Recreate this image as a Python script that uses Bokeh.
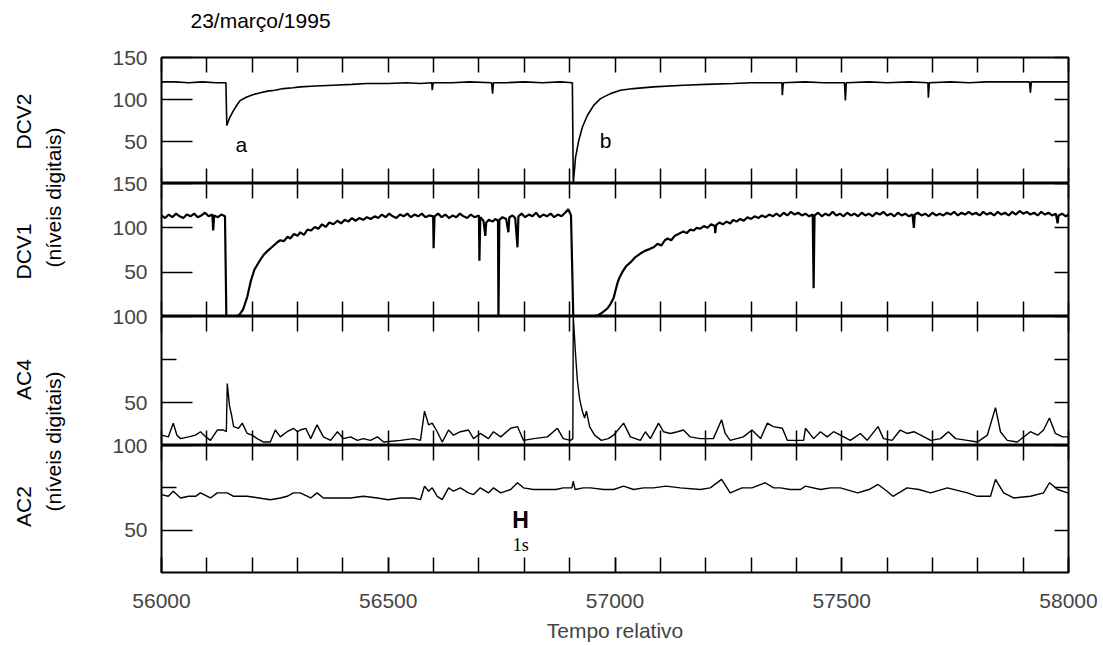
import math
from bokeh.plotting import figure
from bokeh.models import Range1d, LinearAxis, FixedTicker, SingleIntervalTicker
from bokeh.layouts import column, row
from bokeh.core.properties import value
from bokeh.embed import file_html
from bokeh.resources import INLINE

FONT = "Liberation Sans"
X_START, X_END = 56000, 58000

# ---------------- data ----------------
dcv2_x = [56000, 56030, 56060, 56090, 56120, 56142, 56144, 56150, 56159, 56167, 56174, 56188, 56203,
          56218, 56234, 56250, 56269, 56290, 56306, 56340, 56379, 56420, 56453, 56500, 56540, 56570,
          56596, 56597, 56599, 56640, 56680, 56728, 56730, 56732, 56760, 56800, 56840, 56880, 56906,
          56908, 56913, 56920, 56928, 56939, 56953, 56968, 56990, 57012, 57041, 57085, 57151, 57200,
          57261, 57300, 57340, 57368, 57369, 57371, 57420, 57460, 57506, 57508, 57510, 57560, 57600,
          57650, 57690, 57691, 57693, 57740, 57780, 57820, 57860, 57914, 57916, 57918, 57950, 57998, 58000]
dcv2_y = [121, 121, 120, 121, 120, 120, 69, 78, 87, 94, 99, 103, 106,
          108, 110, 111, 113, 114, 115, 116, 117, 118, 119, 119, 120, 119,
          120, 111, 120, 120, 121, 120, 107, 120, 120, 121, 120, 121, 120,
          0, 31, 51, 67, 81, 93, 101, 107, 111, 113, 115, 117, 118,
          119, 120, 120, 120, 105, 120, 121, 120, 120, 99, 120, 121, 120,
          121, 120, 102, 120, 121, 120, 121, 121, 121, 108, 121, 121, 121, 121]

dcv1_x = [56000, 56008, 56016, 56024, 56032, 56040, 56048, 56056, 56064, 56072, 56080, 56088, 56096,
          56104, 56112, 56114, 56116, 56124, 56132, 56140, 56143, 56163, 56172, 56180, 56189, 56197,
          56205, 56218, 56226, 56234, 56245, 56256, 56262, 56270, 56278, 56284, 56292, 56300, 56306,
          56314, 56322, 56330, 56338, 56346, 56354, 56362, 56370, 56379, 56388, 56396, 56404, 56412,
          56420, 56428, 56436, 56445, 56453, 56461, 56470, 56478, 56486, 56494, 56502, 56510, 56518,
          56526, 56534, 56542, 56550, 56558, 56566, 56574, 56582, 56590, 56599, 56600, 56602, 56610,
          56618, 56626, 56634, 56642, 56650, 56658, 56666, 56674, 56682, 56690, 56700, 56701, 56703,
          56710, 56714, 56716, 56722, 56730, 56736, 56742, 56743, 56745, 56752, 56760, 56765, 56767,
          56774, 56780, 56785, 56787, 56794, 56802, 56810, 56818, 56826, 56834, 56842, 56850, 56858,
          56866, 56874, 56882, 56890, 56897, 56903, 56908, 56946, 56960, 56968, 56976, 56983, 56990,
          56997, 57005, 57010, 57016, 57025, 57034, 57045, 57056, 57066, 57076, 57085, 57094, 57102,
          57110, 57116, 57124, 57132, 57140, 57151, 57158, 57166, 57174, 57180, 57188, 57196, 57204,
          57212, 57220, 57221, 57223, 57230, 57238, 57246, 57254, 57261, 57268, 57276, 57284, 57292,
          57300, 57308, 57316, 57324, 57332, 57340, 57348, 57356, 57364, 57372, 57380, 57388, 57396,
          57404, 57412, 57420, 57428, 57436, 57438, 57440, 57448, 57456, 57464, 57472, 57480, 57488,
          57496, 57504, 57512, 57520, 57528, 57536, 57544, 57552, 57560, 57568, 57576, 57584, 57592,
          57600, 57608, 57616, 57624, 57632, 57640, 57648, 57656, 57659, 57661, 57668, 57676, 57684,
          57692, 57700, 57708, 57716, 57724, 57732, 57740, 57748, 57756, 57764, 57772, 57780, 57788,
          57796, 57804, 57812, 57820, 57828, 57836, 57844, 57852, 57860, 57868, 57876, 57884, 57892,
          57900, 57908, 57916, 57924, 57932, 57940, 57948, 57956, 57964, 57972, 57976, 57978, 57986,
          57994, 58000]
dcv1_y = [114, 111, 115, 112, 116, 113, 111, 115, 113, 116, 112, 114, 117,
          113, 115, 97, 114, 112, 115, 113, 0, 0, 2, 8, 22, 40,
          53, 64, 70, 74, 79, 84, 86, 85, 90, 88, 93, 91, 95,
          92, 98, 97, 101, 99, 104, 101, 106, 104, 108, 105, 109, 107,
          111, 108, 111, 109, 112, 110, 113, 111, 115, 112, 116, 113, 111,
          115, 113, 116, 112, 115, 113, 116, 112, 114, 113, 77, 113, 116,
          112, 115, 111, 114, 112, 116, 113, 111, 115, 112, 114, 63, 112,
          108, 91, 106, 109, 107, 110, 108, 0, 109, 112, 110, 95, 112,
          114, 111, 78, 113, 116, 112, 115, 113, 117, 112, 115, 113, 116,
          112, 115, 113, 117, 121, 114, 0, 0, 1, 3, 6, 9, 14,
          21, 37, 44, 50, 57, 61, 67, 71, 74, 76, 78, 82, 80,
          86, 88, 86, 91, 93, 96, 94, 98, 97, 100, 99, 102, 100,
          104, 102, 94, 103, 106, 104, 107, 105, 109, 107, 110, 108, 112,
          110, 113, 111, 114, 112, 115, 113, 116, 113, 117, 114, 118, 115,
          117, 114, 116, 113, 115, 32, 114, 117, 113, 116, 114, 118, 114,
          116, 113, 117, 114, 116, 113, 117, 114, 116, 113, 117, 115, 118,
          114, 116, 113, 117, 114, 116, 113, 115, 100, 115, 117, 114, 116,
          113, 117, 114, 116, 114, 117, 115, 118, 114, 117, 115, 118, 115,
          117, 114, 118, 115, 117, 114, 118, 115, 117, 114, 118, 115, 119,
          116, 118, 115, 117, 114, 118, 115, 117, 114, 116, 105, 114, 116,
          113, 115]

ac4_x = [56000, 56015, 56026, 56034, 56042, 56060, 56075, 56086, 56098, 56108, 56123, 56137, 56143,
         56145, 56150, 56155, 56159, 56170, 56178, 56189, 56200, 56211, 56225, 56240, 56251, 56262,
         56277, 56291, 56300, 56306, 56318, 56329, 56343, 56357, 56373, 56388, 56401, 56417, 56432,
         56445, 56461, 56476, 56490, 56527, 56556, 56571, 56580, 56589, 56597, 56608, 56619, 56633,
         56644, 56659, 56677, 56688, 56703, 56721, 56732, 56748, 56770, 56785, 56798, 56821, 56851,
         56873, 56886, 56902, 56907, 56908, 56913, 56917, 56922, 56928, 56933, 56937, 56944, 56955,
         56970, 56985, 56997, 57019, 57034, 57056, 57067, 57078, 57096, 57107, 57122, 57138, 57151,
         57166, 57188, 57217, 57235, 57243, 57254, 57283, 57302, 57321, 57336, 57349, 57369, 57380,
         57400, 57416, 57420, 57438, 57453, 57468, 57482, 57497, 57519, 57541, 57556, 57580, 57592,
         57611, 57629, 57644, 57659, 57674, 57696, 57718, 57735, 57751, 57777, 57799, 57821, 57839,
         57850, 57865, 57887, 57916, 57932, 57945, 57958, 57971, 57987, 58000]
ac4_y = [31, 30, 38, 31, 29, 30, 31, 33, 30, 28, 34, 34, 33,
         61, 48, 42, 36, 35, 38, 32, 31, 29, 27, 27, 34, 30,
         33, 35, 33, 34, 35, 29, 37, 30, 28, 33, 29, 30, 28,
         29, 28, 30, 27, 28, 29, 28, 45, 37, 38, 33, 27, 34,
         31, 33, 34, 29, 32, 29, 33, 30, 35, 36, 28, 29, 30,
         35, 29, 28, 29, 100, 78, 63, 52, 45, 41, 45, 36, 31,
         28, 29, 31, 38, 30, 28, 33, 29, 38, 33, 32, 33, 34,
         30, 29, 29, 40, 32, 28, 30, 34, 29, 38, 36, 35, 28,
         28, 28, 35, 29, 33, 30, 33, 31, 28, 32, 28, 36, 29,
         28, 34, 32, 33, 31, 28, 29, 33, 29, 28, 27, 31, 47,
         33, 28, 27, 33, 31, 34, 41, 32, 30, 30]

ac2_x = [56000, 56015, 56026, 56042, 56060, 56075, 56086, 56108, 56123, 56145, 56159, 56189, 56215,
         56240, 56262, 56277, 56291, 56306, 56329, 56343, 56357, 56388, 56417, 56445, 56476, 56500,
         56527, 56556, 56571, 56580, 56589, 56597, 56608, 56619, 56633, 56644, 56659, 56677, 56688,
         56703, 56721, 56732, 56748, 56770, 56785, 56798, 56820, 56851, 56870, 56886, 56905, 56908,
         56912, 56930, 56946, 56975, 56997, 57019, 57041, 57063, 57085, 57112, 57144, 57188, 57210,
         57235, 57254, 57280, 57302, 57331, 57350, 57365, 57386, 57409, 57420, 57453, 57475, 57497,
         57535, 57560, 57580, 57600, 57613, 57644, 57670, 57696, 57733, 57777, 57799, 57828, 57839,
         57857, 57879, 57916, 57945, 57958, 57976, 57998, 58000]
ac2_y = [71, 70, 73, 69, 70, 70, 72, 69, 72, 72, 70, 70, 69,
         68, 69, 70, 72, 72, 69, 72, 69, 69, 69, 70, 69, 68,
         69, 69, 68, 76, 73, 75, 70, 68, 75, 73, 75, 72, 71,
         75, 72, 75, 72, 74, 78, 75, 74, 74, 74, 75, 75, 79,
         74, 75, 75, 74, 74, 76, 74, 75, 75, 76, 75, 74, 75,
         80, 72, 75, 75, 78, 75, 75, 74, 74, 76, 74, 75, 75,
         72, 74, 77, 73, 70, 75, 74, 72, 75, 72, 70, 70, 80,
         72, 69, 70, 72, 78, 74, 72, 72]

# panel value ranges and y ticks
dcv_range = (0, 150)
ac_range = (25, 100)
dcv_ticks = [50, 100, 150]
ac_ticks = [50, 100]
ac_minor = [75]
x_small_ticks = list(range(X_START, X_END + 1, 100))

title_text = "23/março/1995"
x_title = "Tempo relativo"
panel_names = ["DCV2", "DCV1", "AC4", "AC2"]
unit_label = "(níveis digitais)"

# annotation positions (data units of their panel)
mark_a = (56176, 47)
mark_b = (56979, 51)
scale_H = (56792, 56)
scale_1s = (56792, 41)

# ---------------- layout constants ----------------
FRAME_W = 907
LEFT_B = 83
RIGHT_B = 34
OVERLAP = 14
LAB_W = 78
TOP_H = 57
BOTTOM_B = 72
FRAME_H = [126, 133, 129, 127]
TOTAL_H = TOP_H + sum(FRAME_H) + BOTTOM_B

x_range = Range1d(X_START, X_END)


def clean(f):
    f.grid.visible = False
    f.border_fill_alpha = 0
    return f


def panel(frame_h, yr, bottom_b):
    p = figure(frame_width=FRAME_W, frame_height=frame_h, x_range=x_range, y_range=Range1d(*yr),
               output_backend="svg", toolbar_location=None,
               x_axis_location=None, y_axis_location=None,
               min_border_left=LEFT_B, min_border_right=RIGHT_B,
               min_border_top=OVERLAP, min_border_bottom=bottom_b)
    clean(p)
    p.outline_line_color = "black"
    p.outline_line_width = 2
    p.margin = (-OVERLAP, 0, 0, 0)
    return p


def tick_only_axis(ticks, length):
    # ticks drawn as minor ticks so that no labels are produced
    return LinearAxis(ticker=FixedTicker(ticks=[], minor_ticks=ticks),
                      major_tick_in=0, major_tick_out=0, minor_tick_in=length, minor_tick_out=0,
                      major_label_standoff=0, axis_line_color=None,
                      minor_tick_line_color="black", minor_tick_line_width=1.5)


def y_axes(p, ticks, minor):
    ax = LinearAxis(ticker=FixedTicker(ticks=ticks, minor_ticks=minor),
                    major_tick_in=31, major_tick_out=0, minor_tick_in=15, minor_tick_out=0,
                    major_label_text_font=FONT, major_label_text_font_size="21px",
                    major_label_standoff=14, axis_line_color=None,
                    major_tick_line_width=1.5, minor_tick_line_width=1.5)
    p.add_layout(ax, "left")
    p.add_layout(tick_only_axis(ticks + minor, 14), "right")


# title strip above the panels (its frame is aligned with the panel frames)
top = figure(frame_width=FRAME_W, frame_height=TOP_H, x_range=Range1d(0, FRAME_W),
             y_range=Range1d(0, TOP_H), output_backend="svg", toolbar_location=None,
             x_axis_location=None, y_axis_location=None,
             min_border_left=LEFT_B, min_border_right=RIGHT_B, min_border_top=0, min_border_bottom=0)
clean(top)
top.outline_line_color = None
top.background_fill_alpha = 0
top.text(x=[29], y=[TOP_H - 20], text=[title_text], text_font=value(FONT),
         text_font_size="21px", text_align="left", text_baseline="middle")

# panel 1: DCV2
p1 = panel(FRAME_H[0], dcv_range, 0)
p1.add_layout(tick_only_axis(x_small_ticks, 15), "above")
p1.add_layout(tick_only_axis(x_small_ticks, 15), "below")
y_axes(p1, dcv_ticks, [])
p1.line(dcv2_x, dcv2_y, line_color="black", line_width=1.6)
p1.text(x=[mark_a[0], mark_b[0]], y=[mark_a[1], mark_b[1]], text=["a", "b"],
        text_font=value(FONT), text_font_size="21px", text_align="center", text_baseline="middle")

# panel 2: DCV1
p2 = panel(FRAME_H[1], dcv_range, 0)
p2.add_layout(tick_only_axis(x_small_ticks, 15), "above")
p2.add_layout(tick_only_axis(x_small_ticks, 15), "below")
y_axes(p2, dcv_ticks, [])
p2.line(dcv1_x, dcv1_y, line_color="black", line_width=2.2)

# panel 3: AC4
p3 = panel(FRAME_H[2], ac_range, 0)
p3.add_layout(tick_only_axis(x_small_ticks, 15), "above")
p3.add_layout(tick_only_axis(x_small_ticks, 15), "below")
y_axes(p3, ac_ticks, ac_minor)
p3.line(ac4_x, ac4_y, line_color="black", line_width=1.4)

# panel 4: AC2
p4 = panel(FRAME_H[3], ac_range, BOTTOM_B)
p4.add_layout(tick_only_axis(x_small_ticks, 15), "above")
y_axes(p4, ac_ticks, ac_minor)
bx = LinearAxis(ticker=SingleIntervalTicker(interval=500, num_minor_ticks=5),
                major_tick_in=15, major_tick_out=0, minor_tick_in=15, minor_tick_out=0,
                major_tick_line_width=1.5, minor_tick_line_width=1.5,
                major_label_text_font=FONT, major_label_text_font_size="21px", major_label_standoff=21,
                axis_label=x_title, axis_label_text_font=FONT, axis_label_text_font_size="21px",
                axis_label_text_font_style="normal", axis_label_standoff=8, axis_line_color=None)
p4.add_layout(bx, "below")
p4.line(ac2_x, ac2_y, line_color="black", line_width=1.4)
p4.text(x=[scale_H[0]], y=[scale_H[1]], text=["H"], text_font=value(FONT), text_font_size="23px",
        text_font_style="bold", text_align="center", text_baseline="middle")
p4.text(x=[scale_1s[0]], y=[scale_1s[1]], text=["1s"], text_font=value("Liberation Serif"),
        text_font_size="18px", text_align="center", text_baseline="middle")

# left strip with the rotated y labels (coordinates of the strip, origin bottom-left)
lab = figure(width=LAB_W, height=TOTAL_H, x_range=Range1d(0, LAB_W), y_range=Range1d(0, TOTAL_H),
             output_backend="svg", toolbar_location=None, x_axis_location=None,
             y_axis_location=None, min_border=0)
clean(lab)
lab.outline_line_color = None
lab_text = [panel_names[0], unit_label, panel_names[1], panel_names[2], unit_label, panel_names[3]]
lab_x = [23, 53, 23, 23, 53, 23]
lab_y = [TOTAL_H - v for v in (121, 197, 251, 379, 441, 506)]
lab.text(x=lab_x, y=lab_y, text=lab_text, angle=math.pi / 2, text_font=value(FONT),
         text_font_size="21px", text_align="center", text_baseline="middle")

layout = row(lab, column(top, p1, p2, p3, p4))

open("out.html", "w").write(file_html(layout, INLINE))
